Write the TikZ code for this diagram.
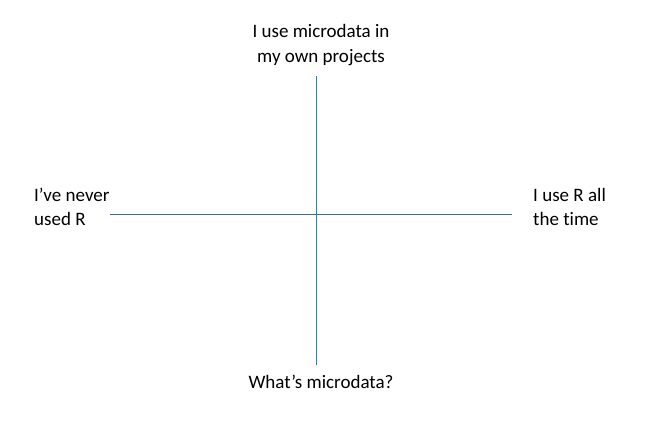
\documentclass[tikz,border=0pt]{standalone}
\usepackage{fontspec}
\setmainfont{Carlito}[Ligatures=NoCommon]
\usepackage{tikz}

\begin{document}
\begin{tikzpicture}[x=1pt, y=-1pt,
  axis label/.style={font=\fontsize{19}{24.5}\selectfont, inner sep=0pt},
  axis line/.style={line width=1pt}]
  \useasboundingbox (0,0) rectangle (648,439);

  % Beschriftungen
  \node[axis label, align=center] (up) at (321,45) {I use microdata in\\my own projects};
  \node[axis label, align=center] (down) at (321,382) {What’s microdata?};
  \node[axis label, align=left, anchor=west] (left) at (34,207) {I’ve never\\used R};
  \node[axis label, align=left, anchor=west] (right) at (533,207) {I use R all\\the time};

  % Achsen
  \coordinate (ytop) at (316,76);
  \coordinate (ybot) at (316,365);
  \coordinate (xlft) at (110,214);
  \coordinate (xrgt) at (512,214);
  \draw[axis line, color={rgb,255:red,79;green,100;blue,140}] (xlft) -- (xrgt);
  \draw[axis line, color={rgb,255:red,68;green,114;blue,196}] (ytop) -- (ybot);
\end{tikzpicture}
\end{document}
